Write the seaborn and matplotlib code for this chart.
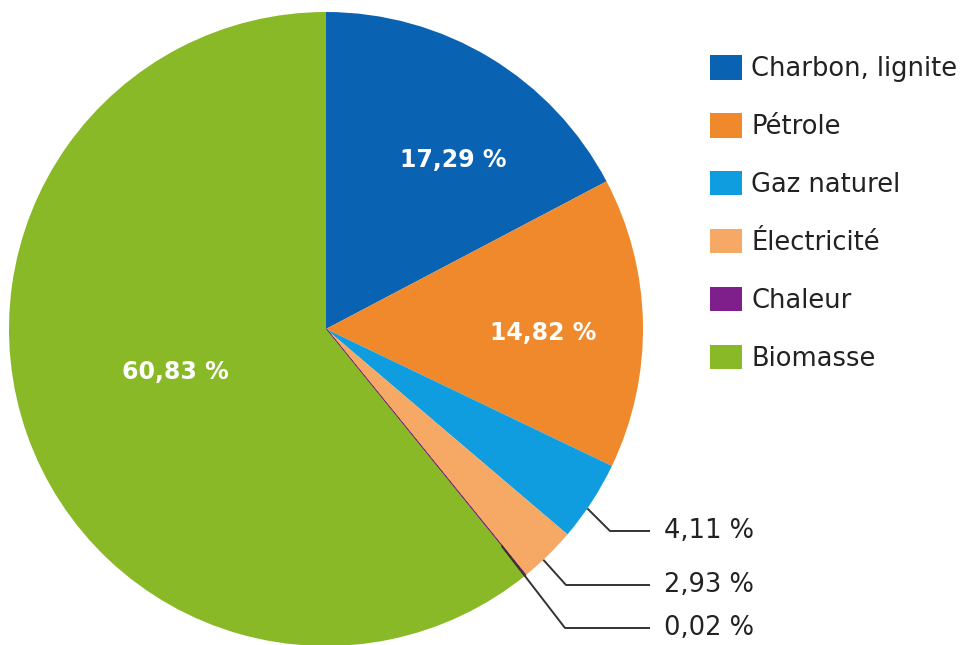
import numpy as np
import matplotlib
matplotlib.use("Agg")
import matplotlib.pyplot as plt
import seaborn as sns
from matplotlib.patches import Patch

# data
categories = ["Charbon, lignite", "Pétrole", "Gaz naturel", "Électricité", "Chaleur", "Biomasse"]
shares = [17.29, 14.82, 4.11, 2.93, 0.02, 60.83]
colors = ["#0a63b2", "#ef892b", "#0f9de0", "#f6a865", "#7e1f8b", "#89b927"]
pct_labels = ["17,29 %", "14,82 %", "4,11 %", "2,93 %", "0,02 %", "60,83 %"]

# layout (pixels of the 961x645 image)
W, H = 961, 645
CX, CY, R = 326, 329, 317
inside_pos = {0: (453, 160), 1: (543, 333), 5: (175, 372)}
# elbow x, elbow y, start radius
outside = {2: (610, 531, 1.0), 3: (566, 585, 1.0), 4: (565, 628, 0.88)}
line_end_x = 650
text_x = 664


def px(x, y):
    return (x - CX) / R, (CY - y) / R


sns.set_theme(style="white")
plt.rcParams['font.family'] = ['DejaVu Sans']

fig = plt.figure(figsize=(W / 100, H / 100), dpi=100)
ax = fig.add_axes([(CX - R) / W, (H - CY - R) / H, 2 * R / W, 2 * R / H])

wedges, _ = ax.pie(shares, colors=colors, startangle=90, counterclock=False,
                   radius=1, wedgeprops=dict(linewidth=0))
# the tiny "Chaleur" slice is only visible as a thin purple line
wedges[4].set_edgecolor(colors[4])
wedges[4].set_linewidth(1.0)
ax.set_xlim(-1, 1)
ax.set_ylim(-1, 1)
ax.set_aspect('equal')
ax.axis('off')

# labels inside the big slices
for i, (x, y) in inside_pos.items():
    tx, ty = px(x, y)
    ax.text(tx, ty, pct_labels[i], color="white", fontsize=17, fontweight="bold",
            ha="center", va="center")

# leader lines for small slices
for i, (ex, ey, r0) in outside.items():
    w = wedges[i]
    ang = np.deg2rad(w.theta1 + 0.4 * (w.theta2 - w.theta1))
    sx, sy = r0 * np.cos(ang), r0 * np.sin(ang)
    exd, eyd = px(ex, ey)
    lx, _ = px(line_end_x, ey)
    ax.plot([sx, exd, lx], [sy, eyd, eyd], color="#333333", lw=1.4,
            solid_capstyle="butt", clip_on=False)
    tx, _ = px(text_x, ey)
    ax.text(tx, eyd, pct_labels[i], color="#222222", fontsize=18.5,
            ha="left", va="center")

handles = [Patch(facecolor=c, edgecolor="none") for c in colors]
fig.legend(handles, categories, loc="upper left", bbox_to_anchor=(710 / W, 1 - 55 / H),
           frameon=False, borderpad=0, borderaxespad=0, fontsize=18.5,
           handlelength=1.25, handleheight=1.1, handletextpad=0.35,
           labelspacing=1.2, labelcolor="#222222")

fig.savefig("out.png", dpi=100)
